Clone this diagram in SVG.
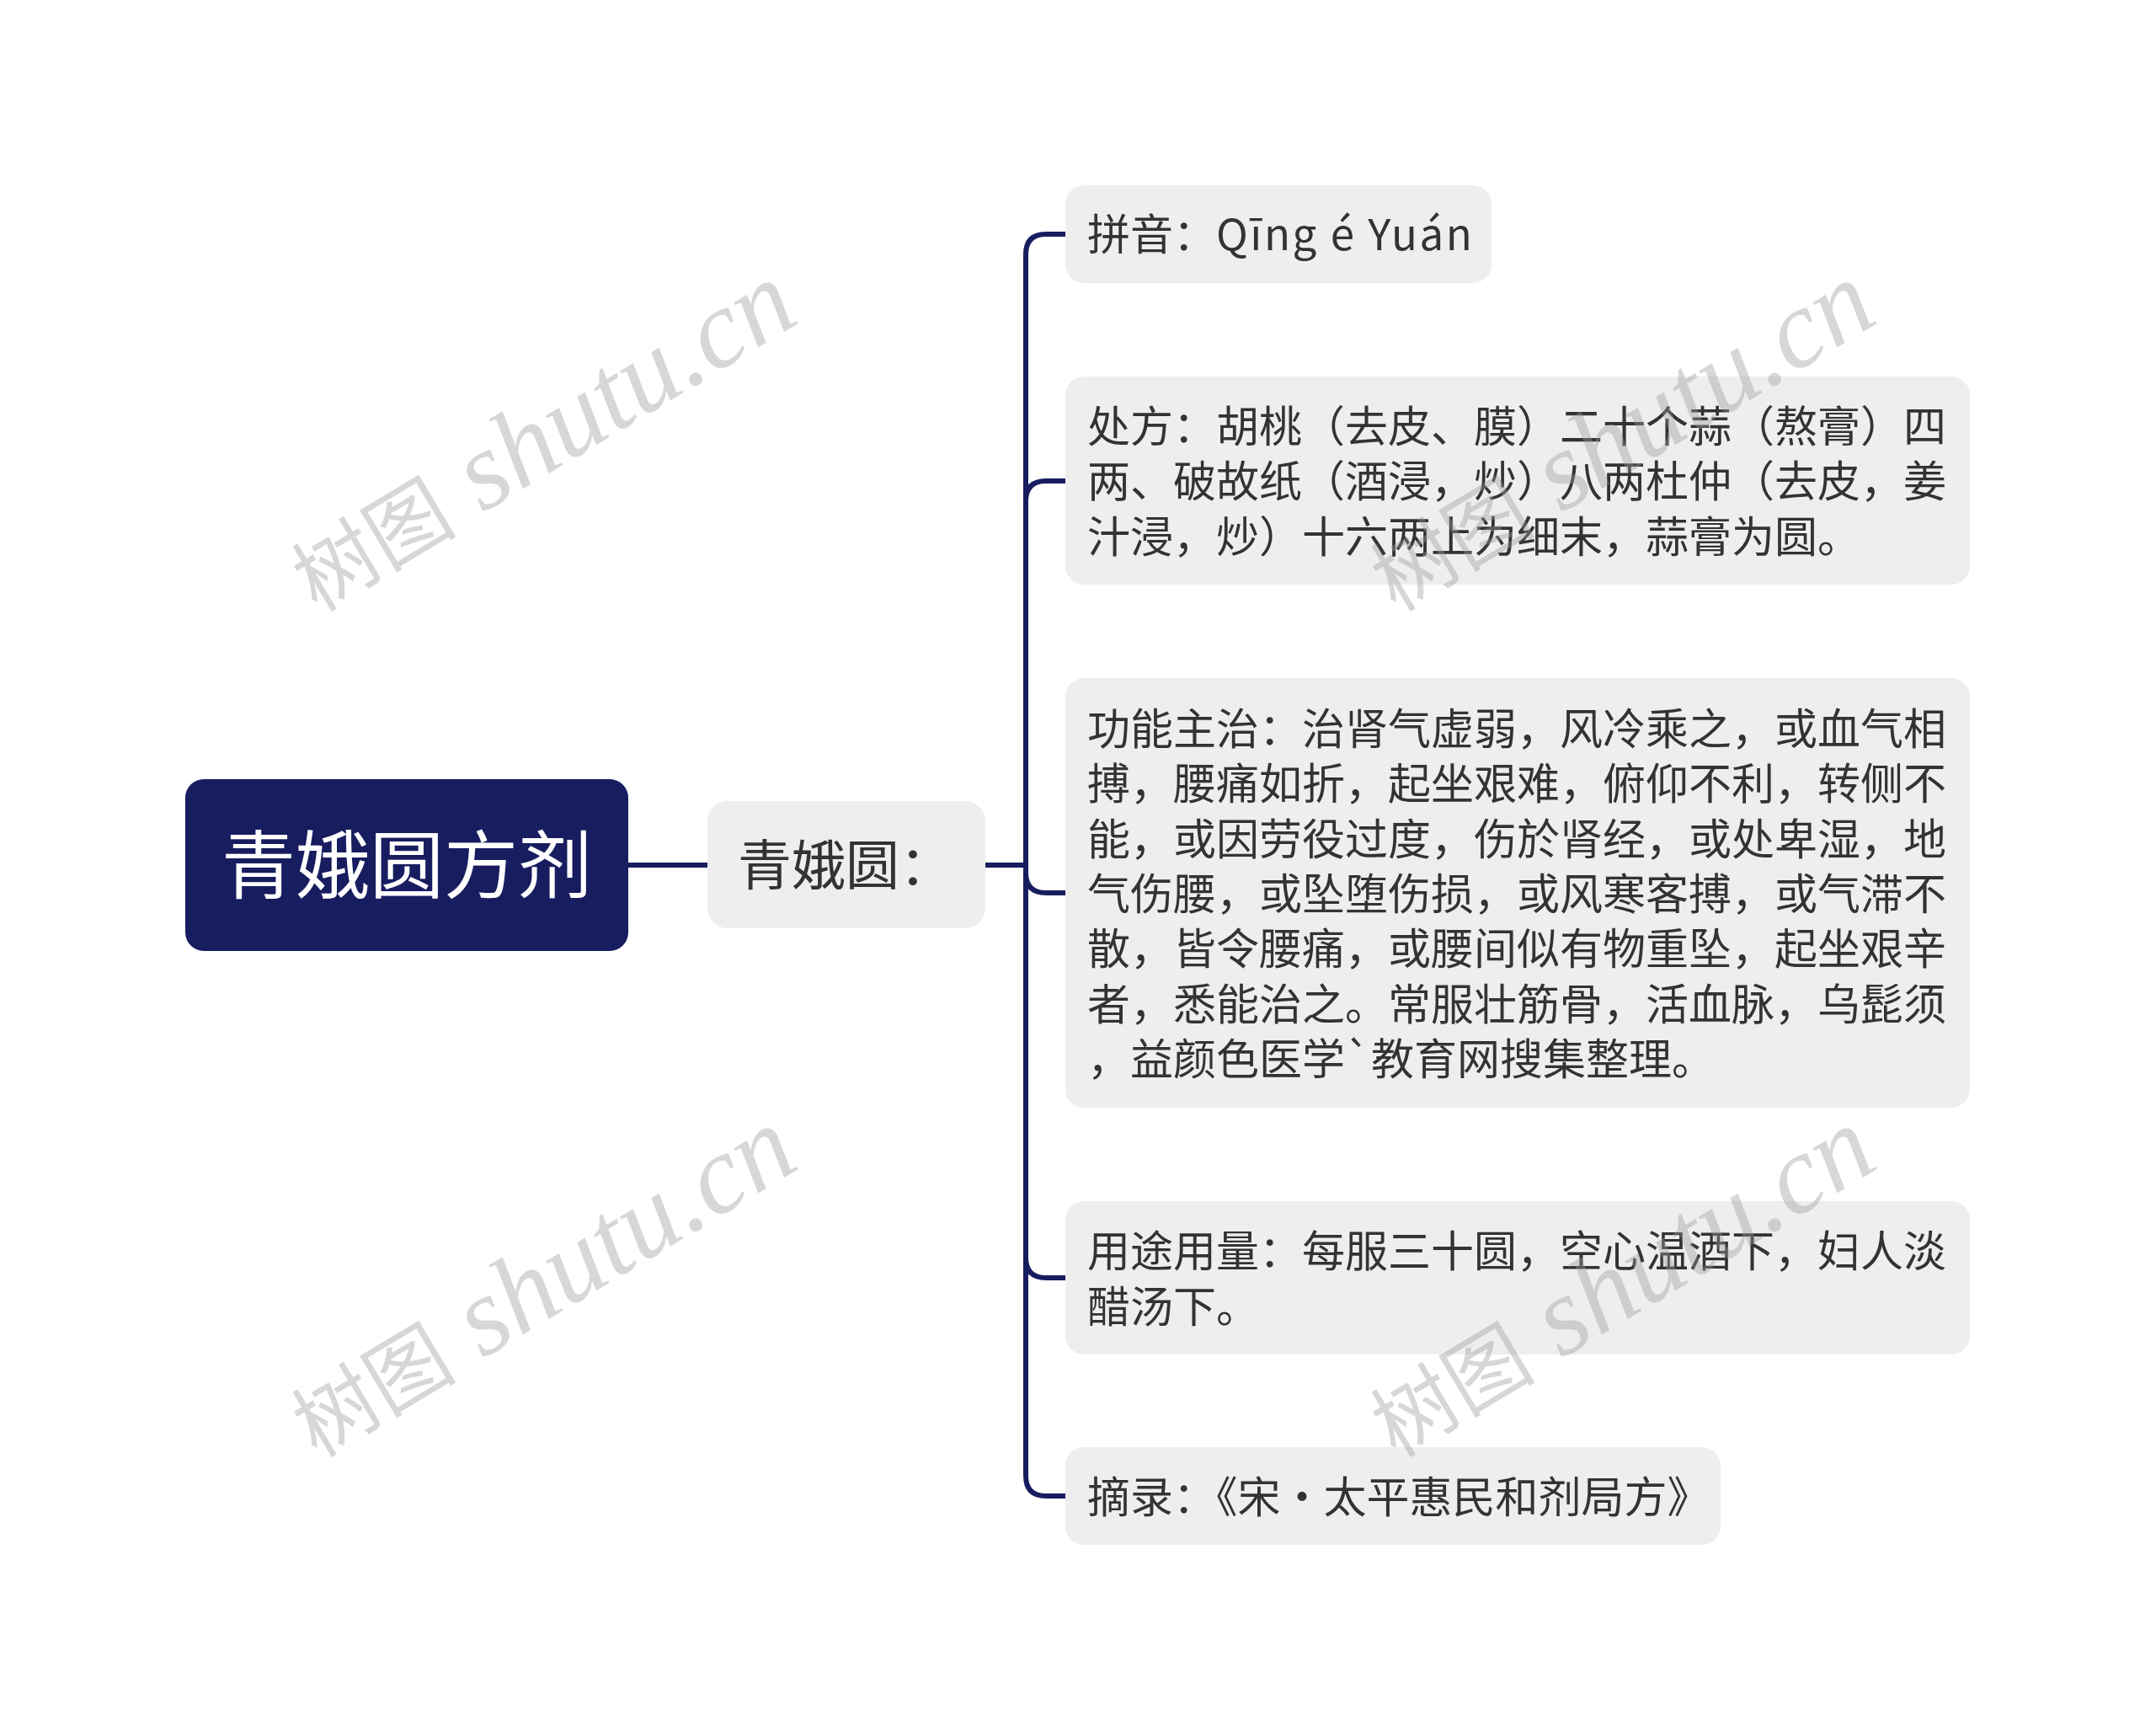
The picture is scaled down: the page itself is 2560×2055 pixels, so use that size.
<svg xmlns="http://www.w3.org/2000/svg" width="2560" height="2055" viewBox="0 0 2560 2055">
<style>
.bg{fill:#ffffff}
.root-box{fill:#171d5e}
.root-text{fill:#ffffff;font-family:"Noto Sans CJK SC","Noto Sans",sans-serif;font-size:88px}
.box{fill:#eeeeee}
.mid-text{fill:#333333;font-family:"Noto Sans CJK SC","Noto Sans",sans-serif;font-size:64px}
.leaf-text{fill:#333333;font-family:"Noto Sans CJK SC","Noto Sans",sans-serif;font-size:51px}
.conn{fill:none;stroke:#171d5e;stroke-width:6;stroke-linecap:butt;stroke-linejoin:round}
.wm{fill:#9a9a9a;fill-opacity:0.4;font-family:"Liberation Serif","Noto Sans CJK SC",serif}
.wm-cjk{font-size:98px;font-style:normal}
.wm-lat{font-size:132px;font-style:italic}
</style>
<rect class="bg" x="0" y="0" width="2560" height="2055"/>
<g id="connectors">
<path class="conn" d="M746 1027 H840"/>
<path class="conn" d="M1170 1027 H1218"/>
<path class="conn" d="M1218 1027 V302 Q1218 278 1242 278 H1265"/>
<path class="conn" d="M1218 1027 V595 Q1218 571 1242 571 H1265"/>
<path class="conn" d="M1218 1027 V1036 Q1218 1060 1242 1060 H1265"/>
<path class="conn" d="M1218 1027 V1493 Q1218 1517 1242 1517 H1265"/>
<path class="conn" d="M1218 1027 V1752 Q1218 1776 1242 1776 H1265"/>
</g>
<g id="root">
<rect class="root-box" x="220" y="925" width="526" height="204" rx="22"/>
<text class="root-text" x="483" y="1059" text-anchor="middle">青娥圆方剂</text>
</g>
<g id="node-main">
<rect class="box" x="840" y="951" width="330" height="151" rx="24"/>
<text class="mid-text" x="876" y="1050">青娥圆：</text>
</g>
<g id="node-pinyin">
<rect class="box" x="1265" y="220" width="506" height="116" rx="22"/>
<text class="leaf-text" x="1291" y="297">拼音：<tspan letter-spacing="2.5">Qīng é Yuán</tspan></text>
</g>
<g id="node-recipe">
<rect class="box" x="1265" y="447" width="1074" height="247" rx="22"/>
<text class="leaf-text" x="1291" y="525">处方：胡桃（去皮、膜）二十个蒜（熬膏）四</text>
<text class="leaf-text" x="1291" y="590">两、破故纸（酒浸，炒）八两杜仲（去皮，姜</text>
<text class="leaf-text" x="1291" y="656">汁浸，炒）十六两上为细末，蒜膏为圆。</text>
</g>
<g id="node-function">
<rect class="box" x="1265" y="805" width="1074" height="510" rx="22"/>
<text class="leaf-text" x="1291" y="884">功能主治：治肾气虚弱，风冷乘之，或血气相</text>
<text class="leaf-text" x="1291" y="949">搏，腰痛如折，起坐艰难，俯仰不利，转侧不</text>
<text class="leaf-text" x="1291" y="1015">能，或因劳役过度，伤於肾经，或处卑湿，地</text>
<text class="leaf-text" x="1291" y="1080">气伤腰，或坠堕伤损，或风寒客搏，或气滞不</text>
<text class="leaf-text" x="1291" y="1145">散，皆令腰痛，或腰间似有物重坠，起坐艰辛</text>
<text class="leaf-text" x="1291" y="1211">者，悉能治之。常服壮筋骨，活血脉，乌髭须</text>
<text class="leaf-text" x="1291" y="1276">，益颜色医学`教育网搜集整理。</text>
</g>
<g id="node-usage">
<rect class="box" x="1265" y="1426" width="1074" height="182" rx="22"/>
<text class="leaf-text" x="1291" y="1504">用途用量：每服三十圆，空心温酒下，妇人淡</text>
<text class="leaf-text" x="1291" y="1570">醋汤下。</text>
</g>
<g id="node-source">
<rect class="box" x="1265" y="1718" width="778" height="116" rx="22"/>
<text class="leaf-text" x="1291" y="1796">摘录：《宋·太平惠民和剂局方》</text>
</g>
<g id="watermarks">
<text class="wm" transform="translate(644 520) rotate(-31)" x="0" y="40" text-anchor="middle"><tspan class="wm-cjk">树图</tspan><tspan class="wm-lat"> shutu.cn</tspan></text>
<text class="wm" transform="translate(1925 520) rotate(-31)" x="0" y="40" text-anchor="middle"><tspan class="wm-cjk">树图</tspan><tspan class="wm-lat"> shutu.cn</tspan></text>
<text class="wm" transform="translate(644 1524) rotate(-31)" x="0" y="40" text-anchor="middle"><tspan class="wm-cjk">树图</tspan><tspan class="wm-lat"> shutu.cn</tspan></text>
<text class="wm" transform="translate(1925 1524) rotate(-31)" x="0" y="40" text-anchor="middle"><tspan class="wm-cjk">树图</tspan><tspan class="wm-lat"> shutu.cn</tspan></text>
</g>
</svg>
